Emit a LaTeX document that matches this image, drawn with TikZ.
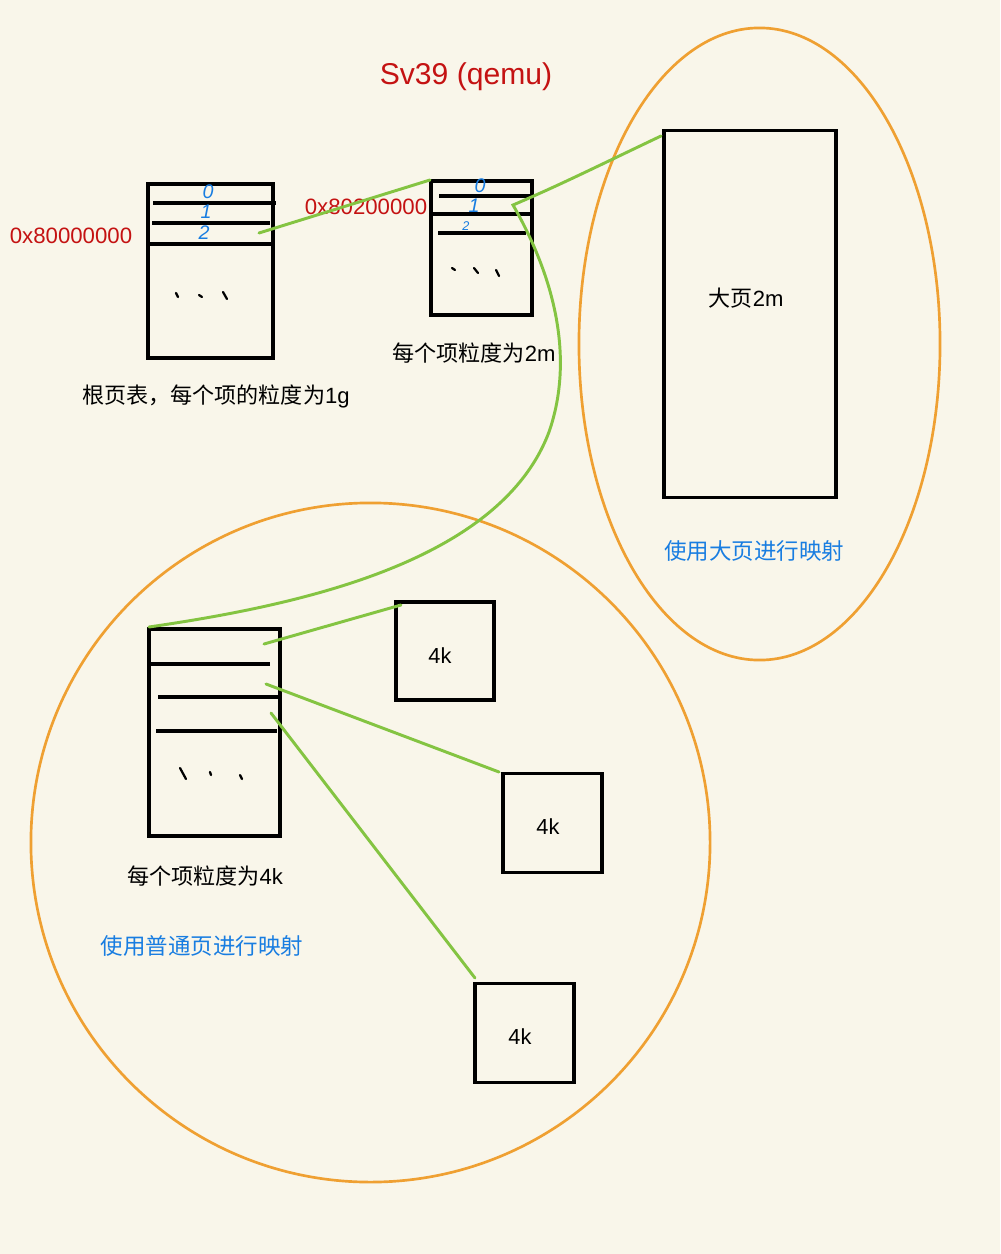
\documentclass[tikz,border=0pt]{standalone}
\usepackage{fontspec}
\setmainfont{Liberation Sans}
\newfontfamily\cjk{Noto Sans CJK SC}
\usetikzlibrary{shapes.geometric}
\definecolor{bgcol}{RGB}{249,246,234}
\definecolor{titlered}{RGB}{196,18,18}
\definecolor{hexred}{RGB}{196,18,18}
\definecolor{notblue}{RGB}{24,125,225}
\definecolor{linkgreen}{RGB}{132,196,66}
\definecolor{ringorange}{RGB}{239,160,50}
\begin{document}
\begin{tikzpicture}[x=0.025cm,y=-0.025cm,
  box/.style={draw=black,line width=2.2pt,inner sep=0pt,outer sep=0pt},
  rowline/.style={draw=black,line width=2.2pt},
  link/.style={draw=linkgreen,line width=2.1pt,line cap=round,line join=miter},
  ring/.style={draw=ringorange,line width=1.9pt,inner sep=0pt,outer sep=0pt},
  tick/.style={draw=black,line width=1.6pt,line cap=round},
  lbl/.style={inner sep=0pt,font=\fontsize{15.7}{18}\selectfont},
  bluelbl/.style={inner sep=0pt,text=notblue,font=\cjk\fontsize{16}{18}\selectfont},
  hexlbl/.style={inner sep=0pt,text=hexred,font=\fontsize{15.8}{18}\selectfont},
  digit/.style={inner sep=0pt,text=notblue,font=\itshape\fontsize{14}{16}\selectfont},
  klbl/.style={inner sep=0pt,font=\fontsize{15.5}{18}\selectfont}
]
\fill[bgcol] (0,0) rectangle (1000,1254);
\useasboundingbox (0,0) rectangle (1000,1254);

% title
\node[inner sep=0pt,text=titlered,font=\fontsize{21.4}{24}\selectfont] (title) at (466,77) {Sv39 (qemu)};

% rings
\node[ring,ellipse,minimum width=9.025cm,minimum height=15.8cm] (bigring) at (759.5,344) {};
\node[ring,circle,minimum size=16.975cm] (smallring) at (370.5,842.5) {};

% root table
\node[box,minimum width=3.125cm,minimum height=4.35cm] (t1) at (210.5,271) {};
\draw[rowline] (153,203) -- (276,203);
\draw[rowline] (152,223) -- (270,223);
\draw[rowline] (150,244) -- (272,244);
\node[digit] (t1d0) at (208,192) {0};
\node[digit] (t1d1) at (206,212) {1};
\node[digit] (t1d2) at (204,233) {2};
\draw[tick] (176,293) -- (178,297);
\draw[tick] (199,295) -- (202,297);
\draw[tick] (223,292) -- (227,299);
\node[hexlbl] (hex1) at (71,236) {0x80000000};
\node[lbl] (t1lbl) at (216,396) {{\cjk 根页表，每个项的粒度为}1g};

% second table
\node[box,minimum width=2.525cm,minimum height=3.35cm] (t2) at (481.5,248) {};
\draw[rowline] (439,196) -- (531,196);
\draw[rowline] (431,214) -- (532,214);
\draw[rowline] (438,233) -- (526,233);
\node[digit] (t2d0) at (480,186) {0};
\node[digit] (t2d1) at (474,206) {1};
\node[digit,font=\itshape\fontsize{9}{10}\selectfont] (t2d2) at (466,226) {2};
\draw[tick] (452,268) -- (455,270);
\draw[tick] (474,268) -- (478,273);
\draw[tick] (496,270) -- (499,276);
\node[hexlbl] (hex2) at (366,207) {0x80200000};
\node[lbl] (t2lbl) at (474,353) {{\cjk 每个项粒度为}2m};

% huge page
\node[box,minimum width=4.3cm,minimum height=9.15cm] (big) at (750,314) {};
\node[lbl] (biglbl) at (746,298) {{\cjk 大页}2m};
\node[bluelbl] (bigmap) at (754,551) {使用大页进行映射};

% third table
\node[box,minimum width=3.275cm,minimum height=5.175cm] (t3) at (214.5,732.5) {};
\draw[rowline] (150,664) -- (270,664);
\draw[rowline] (158,697) -- (278,697);
\draw[rowline] (156,731) -- (277,731);
\draw[tick] (180,768) -- (186,779);
\draw[tick] (210,772) -- (211,775);
\draw[tick] (240,775) -- (242,779);
\node[lbl] (t3lbl) at (205,876) {{\cjk 每个项粒度为}4k};
\node[bluelbl] (smallmap) at (202,946) {使用普通页进行映射};

% 4k pages
\node[box,minimum size=2.45cm] (k1) at (445,651) {};
\node[box,minimum size=2.475cm] (k2) at (552.5,823) {};
\node[box,minimum size=2.475cm] (k3) at (524.5,1033) {};
\node[klbl] (k1lbl) at (440,656) {4k};
\node[klbl] (k2lbl) at (548,827) {4k};
\node[klbl] (k3lbl) at (520,1037) {4k};

% link end points
\coordinate (t1e2) at (259,233);
\coordinate (t2top) at (430,180);
\coordinate (t2e1) at (513,205);
\coordinate (bigtop) at (661,136);
\coordinate (t3top) at (149,627);
\coordinate (t3e0) at (264,644);
\coordinate (t3e1) at (266,684);
\coordinate (t3e2) at (271,713);
\coordinate (k1in) at (401,605);
\coordinate (k2in) at (499,772);
\coordinate (k3in) at (475,978);

% links
\draw[link] (t1e2) -- (t2top);
\draw[link] (bigtop) .. controls (600,165) and (560,185) .. (t2e1)
  .. controls (556,280) and (574,360) .. (549,432)
  .. controls (500,562) and (300,605) .. (t3top);
\draw[link] (t3e0) -- (k1in);
\draw[link] (t3e1) -- (k2in);
\draw[link] (t3e2) -- (k3in);
\end{tikzpicture}
\end{document}
